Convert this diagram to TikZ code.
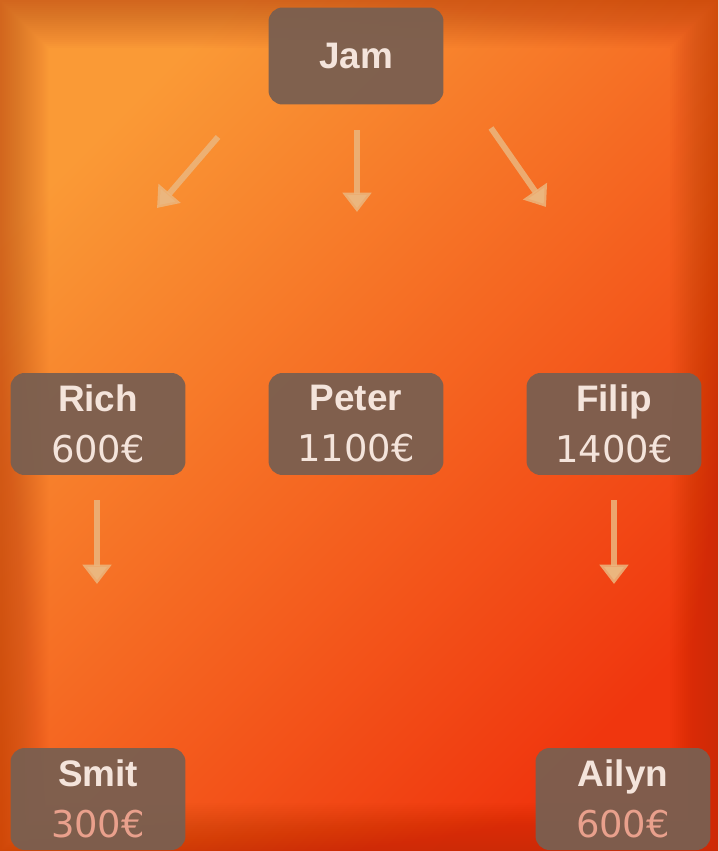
\documentclass[tikz,border=0pt]{standalone}
\usepackage{fontspec}
\setmainfont{Liberation Sans}
\newfontfamily\numfont{DejaVu Sans}
\usetikzlibrary{arrows.meta}

\definecolor{bgLight}{HTML}{FA9A36}
\definecolor{bgDark}{HTML}{F0360E}
\definecolor{edgeShade}{HTML}{A82A06}
\definecolor{boxFill}{HTML}{7A5F50}
\definecolor{boxText}{HTML}{F4E4DB}
\definecolor{fadeText}{HTML}{E9A08C}
\definecolor{arrowTan}{HTML}{EBB67E}

\tikzset{
  person/.style={rounded corners=8pt, fill=boxFill, fill opacity=0.95, text opacity=1,
    text=boxText, minimum width=3.5cm, minimum height=2.04cm, inner sep=0pt,
    align=center, font=\fontsize{21}{29}\selectfont},
  pays/.style={draw=arrowTan, draw opacity=0.85, line width=3.4pt,
    -{Triangle[width=16pt,length=11pt]}},
}

\begin{document}
\begin{tikzpicture}[x=0.02cm,y=-0.02cm]
\useasboundingbox (0,0) rectangle (718,851);
\clip (0,0) rectangle (718,851);

% background and darker edges
\shade[top color=bgLight, bottom color=bgDark, shading angle=45] (0,0) rectangle (718,851);
\foreach \i in {1,...,24}
  \fill[edgeShade, opacity=0.02, even odd rule] (0,0) rectangle (718,851)
    (\i*2,\i*2) rectangle (718-\i*2,851-\i*2);

% people
\node[person, minimum height=1.94cm] (jam) at (356,56) {\textbf{Jam}};
\node[person] (rich) at (98,424) {\textbf{Rich}\\{\numfont 600€}};
\node[person] (peter) at (356,424) {\textbf{Peter}\\{\numfont 1100€}};
\node[person] (filip) at (614,424) {\textbf{Filip}\\{\numfont 1400€}};
\node[person] (smit) at (98,799) {\textbf{Smit}\\{\numfont\color{fadeText}300€}};
\node[person] (ailyn) at (623,799) {\textbf{Ailyn}\\{\numfont\color{fadeText}600€}};

% arrows
\coordinate (jamL) at (218,137);
\coordinate (richT) at (157,208);
\coordinate (jamM) at (357,130);
\coordinate (peterT) at (357,212);
\coordinate (jamR) at (491,128);
\coordinate (filipT) at (546,207);
\coordinate (richB) at (97,500);
\coordinate (smitT) at (97,584);
\coordinate (filipB) at (614,500);
\coordinate (ailynT) at (614,584);

\draw[pays] (jamL) -- (richT);
\draw[pays] (jamM) -- (peterT);
\draw[pays] (jamR) -- (filipT);
\draw[pays] (richB) -- (smitT);
\draw[pays] (filipB) -- (ailynT);
\end{tikzpicture}
\end{document}
